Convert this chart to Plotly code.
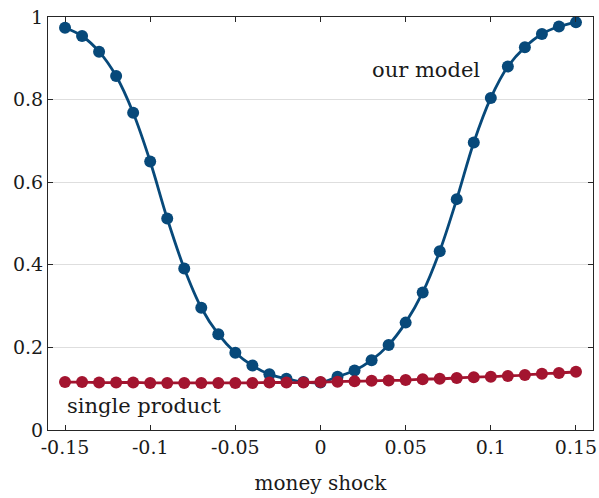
import plotly.graph_objects as go

# money shock grid
shock = [round(-0.15 + 0.01 * i, 2) for i in range(31)]

# share under our model
our_model = [0.974, 0.954, 0.916, 0.857, 0.768, 0.650, 0.512, 0.391, 0.296, 0.232,
             0.187, 0.156, 0.135, 0.124, 0.116, 0.115, 0.129, 0.144, 0.169, 0.206,
             0.260, 0.333, 0.433, 0.559, 0.696, 0.804, 0.880, 0.927, 0.959, 0.977,
             0.987]

# share under single product
single_product = [0.116, 0.116, 0.115, 0.115, 0.115, 0.114, 0.114, 0.114, 0.114, 0.114,
                  0.114, 0.114, 0.115, 0.115, 0.115, 0.116, 0.117, 0.118, 0.119, 0.120,
                  0.121, 0.123, 0.124, 0.126, 0.128, 0.129, 0.131, 0.133, 0.136, 0.138,
                  0.141]

x_ticks = [-0.15, -0.1, -0.05, 0, 0.05, 0.1, 0.15]
x_tick_text = ["-0.15", "-0.1", "-0.05", "0", "0.05", "0.1", "0.15"]
y_ticks = [0, 0.2, 0.4, 0.6, 0.8, 1]
y_tick_text = ["0", "0.2", "0.4", "0.6", "0.8", "1"]

BLUE = "#07497a"
RED = "#a3142f"
FONT = "DejaVu Serif"
AXIS = "#262626"

fig = go.Figure()
fig.add_trace(go.Scatter(
    x=shock, y=our_model, mode="lines+markers",
    line=dict(color=BLUE, width=2.8, shape="spline"),
    marker=dict(color=BLUE, size=12),
    showlegend=False,
))
fig.add_trace(go.Scatter(
    x=shock, y=single_product, mode="lines+markers",
    line=dict(color=RED, width=2.8, shape="spline"),
    marker=dict(color=RED, size=12),
    showlegend=False,
))

fig.add_annotation(x=0.062, y=0.872, text="our model", showarrow=False,
                   font=dict(family=FONT, size=21, color="#1a1a1a"))
fig.add_annotation(x=-0.1035, y=0.058, text="single product", showarrow=False,
                   font=dict(family=FONT, size=21, color="#1a1a1a"))

fig.update_layout(
    width=599, height=498,
    margin=dict(l=48, r=6, t=17, b=68),
    paper_bgcolor="white", plot_bgcolor="white",
    font=dict(family=FONT, size=19, color="#1a1a1a"),
)
fig.update_xaxes(
    range=[-0.16, 0.16], tickvals=x_ticks, ticktext=x_tick_text,
    showgrid=False, zeroline=False, automargin=False,
    showline=True, linecolor=AXIS, linewidth=1.2, mirror="ticks",
    ticks="inside", ticklen=5, tickcolor=AXIS, tickwidth=1,
    title=dict(text="money shock", standoff=19, font=dict(family=FONT, size=20)),
    tickfont=dict(family=FONT, size=19),
)
fig.update_yaxes(
    range=[0, 1], tickvals=y_ticks, ticktext=y_tick_text,
    showgrid=True, gridcolor="#dedede", gridwidth=1, zeroline=False, automargin=False,
    showline=True, linecolor=AXIS, linewidth=1.2, mirror="ticks",
    ticks="inside", ticklen=5, tickcolor=AXIS, tickwidth=1,
    tickfont=dict(family=FONT, size=19),
)

fig.write_html("out.html")
